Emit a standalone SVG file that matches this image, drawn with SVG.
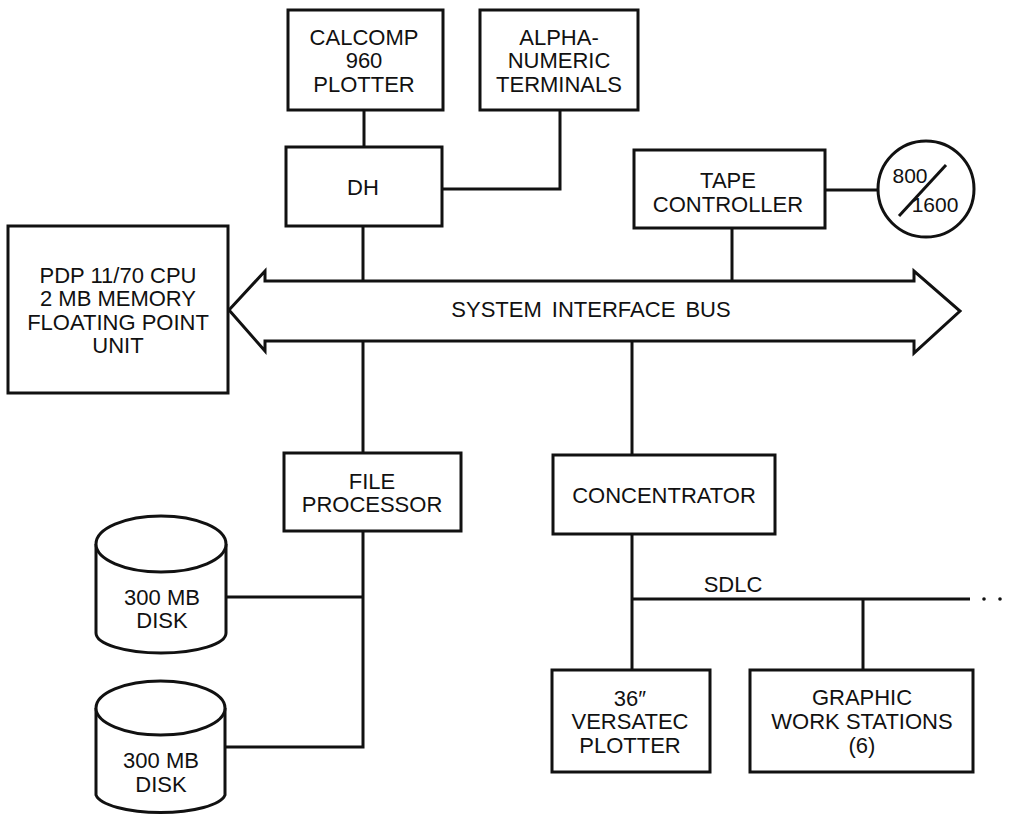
<svg xmlns="http://www.w3.org/2000/svg" width="1011" height="815" viewBox="0 0 1011 815">
<style>
.b{fill:#fff;stroke:#111;stroke-width:3}
.l{fill:none;stroke:#111;stroke-width:3}
text{font-family:"Liberation Sans",Arial,sans-serif;font-size:22px;fill:#111;text-anchor:middle}
</style>
<rect width="1011" height="815" fill="#fff"/>
<g id="connectors">
<path class="l" d="M364 110V147"/>
<path class="l" d="M442 189H560V110"/>
<path class="l" d="M363 226V281"/>
<path class="l" d="M732 228V281"/>
<path class="l" d="M825 190H877"/>
<path class="l" d="M363 341V453"/>
<path class="l" d="M363 531V747H224"/>
<path class="l" d="M226 597H363"/>
<path class="l" d="M632 341V455"/>
<path class="l" d="M632 534V670"/>
<path class="l" d="M632 599H970"/>
<path class="l" d="M863 599V670"/>
<circle cx="984" cy="599" r="1.8" fill="#111"/>
<circle cx="1000" cy="599" r="1.8" fill="#111"/>
<text x="733" y="592">SDLC</text>
</g>
<g id="calcomp">
<rect class="b" x="288" y="10" width="155" height="100"/>
<text x="364" y="45">CALCOMP</text>
<text x="364" y="68">960</text>
<text x="364" y="92">PLOTTER</text>
</g>
<g id="alpha">
<rect class="b" x="480" y="10" width="158" height="100"/>
<text x="559" y="45">ALPHA-</text>
<text x="559" y="68">NUMERIC</text>
<text x="559" y="92">TERMINALS</text>
</g>
<g id="dh">
<rect class="b" x="286" y="147" width="156" height="79"/>
<text x="363" y="195">DH</text>
</g>
<g id="tape">
<rect class="b" x="634" y="150" width="191" height="78"/>
<text x="728" y="188">TAPE</text>
<text x="728" y="212">CONTROLLER</text>
</g>
<g id="reel">
<circle class="b" cx="926" cy="189" r="48"/>
<path class="l" d="M899 216L946 165" stroke-width="2"/>
<text x="910" y="183" style="font-size:21px">800</text>
<text x="935" y="212" style="font-size:21px">1600</text>
</g>
<g id="cpu">
<rect class="b" x="8" y="226" width="220" height="167"/>
<text x="118" y="283">PDP 11/70 CPU</text>
<text x="118" y="306">2 MB MEMORY</text>
<text x="118" y="330">FLOATING POINT</text>
<text x="118" y="353">UNIT</text>
</g>
<g id="bus">
<path class="b" d="M229 310L265 271V281H914V271L960 311L914 353V341H265V351Z"/>
<text x="591" y="317" word-spacing="4">SYSTEM INTERFACE BUS</text>
</g>
<g id="fileproc">
<rect class="b" x="284" y="453" width="177" height="78"/>
<text x="372" y="489">FILE</text>
<text x="372" y="512">PROCESSOR</text>
</g>
<g id="disk1">
<path class="b" d="M96 544V633A65 20 0 0 0 226 633V544"/>
<ellipse class="b" cx="161" cy="544" rx="65" ry="28"/>
<text x="162" y="605">300 MB</text>
<text x="162" y="628">DISK</text>
</g>
<g id="disk2">
<path class="b" d="M96 708V795A65 20 0 0 0 225 795V708"/>
<ellipse class="b" cx="160.5" cy="708" rx="64.5" ry="27"/>
<text x="161" y="768">300 MB</text>
<text x="161" y="792">DISK</text>
</g>
<g id="concentrator">
<rect class="b" x="553" y="455" width="222" height="79"/>
<text x="664" y="503">CONCENTRATOR</text>
</g>
<g id="versatec">
<rect class="b" x="552" y="670" width="158" height="102"/>
<text x="630" y="706">36″</text>
<text x="630" y="729">VERSATEC</text>
<text x="630" y="753">PLOTTER</text>
</g>
<g id="graphic">
<rect class="b" x="750" y="670" width="223" height="102"/>
<text x="862" y="705">GRAPHIC</text>
<text x="862" y="729">WORK STATIONS</text>
<text x="862" y="753">(6)</text>
</g>
</svg>
